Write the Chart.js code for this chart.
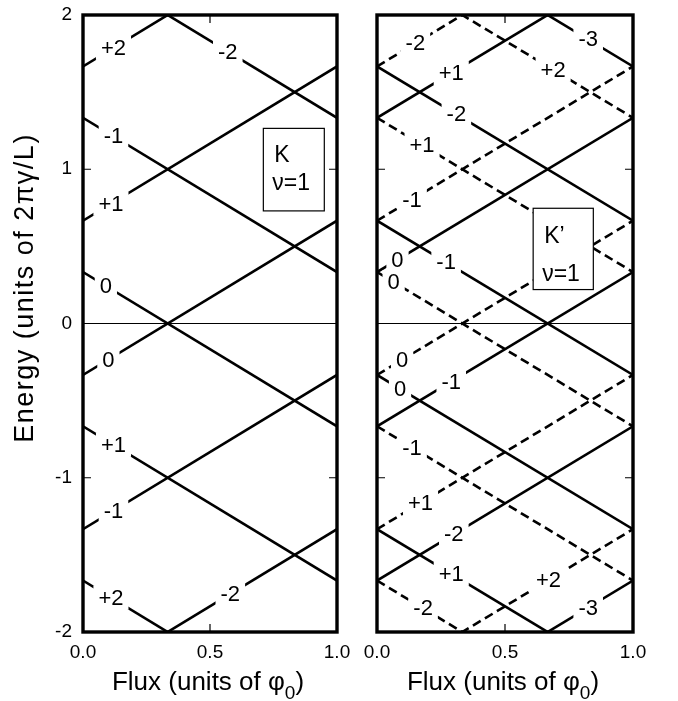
<!DOCTYPE html>
<html>
<head>
<meta charset="utf-8">
<title>Edge-state energies vs flux</title>
<script src="https://cdn.jsdelivr.net/npm/chart.js@4.4.1/dist/chart.umd.min.js"></script>
<style>
  html, body { margin: 0; padding: 0; background: #fff; }
  #fig { position: relative; width: 678px; height: 701px; overflow: hidden; background: #fff; }
  .panel { position: absolute; top: 0; }
  #panelK { left: 0; }
  #panelKp { left: 345px; }
</style>
</head>
<body>
<div id="fig">
  <div class="panel" id="panelK"><canvas id="chartK" width="360" height="701"></canvas></div>
  <div class="panel" id="panelKp"><canvas id="chartKp" width="333" height="701"></canvas></div>
</div>
<script>
"use strict";

const FONT = '"Liberation Sans", Arial, Helvetica, sans-serif';

// Energy (units of 2πγ/L) of each branch at zero flux; "up" branches rise
// by one unit across the flux quantum, "down" branches fall by one.
// Tags are the level indices written on the branches, tagAt the flux where they sit.

// K valley, ν = 1
const kUpE0 = [5/3, 2/3, -1/3, -4/3, -7/3];
const kUpTags = ['+2', '+1', '0', '-1', '-2'];
const kUpTagAt = [0.12, 0.11, 0.10, 0.12, 0.58];
const kDownE0 = [7/3, 4/3, 1/3, -2/3, -5/3];
const kDownTags = ['-2', '-1', '0', '+1', '+2'];
const kDownTagAt = [0.57, 0.12, 0.09, 0.12, 0.11];

// K' valley, ν = 1 - solid branches
const kpUpE0 = [4/3, 1/3, -2/3, -5/3, -8/3];
const kpUpTags = ['+1', '0', '-1', '-2', '-3'];
const kpUpTagAt = [0.29, 0.08, 0.29, 0.30, 0.825];
const kpDownE0 = [8/3, 5/3, 2/3, -1/3, -4/3];
const kpDownTags = ['-3', '-2', '-1', '0', '+1'];
const kpDownTagAt = [0.825, 0.31, 0.27, 0.09, 0.29];

// K' valley, ν = 1 - dashed branches
const kpDashUpE0 = [5/3, 2/3, -1/3, -4/3, -7/3];
const kpDashUpTags = ['-2', '-1', '0', '+1', '+2'];
const kpDashUpTagAt = [0.15, 0.137, 0.098, 0.17, 0.67];
const kpDashDownE0 = [7/3, 4/3, 1/3, -2/3, -5/3];
const kpDashDownTags = ['+2', '+1', '0', '-1', '-2'];
const kpDashDownTagAt = [0.688, 0.176, 0.065, 0.137, 0.18];

const fluxTicks = [0, 0.5, 1];
const energyTicks = [-2, -1, 0, 1, 2];

function branchSets(e0s, slope, tags, tagAt, dashed) {
  return e0s.map((e0, i) => ({
    data: [{ x: 0, y: e0 }, { x: 1, y: e0 + slope }],
    borderColor: '#000',
    borderWidth: 2.6,
    borderDash: dashed ? [9, 5] : [],
    pointRadius: 0,
    showLine: true,
    tension: 0,
    tag: tags[i],
    tagAt: tagAt[i]
  }));
}

// keep the plot frame exactly where the layout padding puts it
function noOverflow(s) {
  s.paddingTop = 0;
  s.paddingBottom = 0;
  s.paddingLeft = 0;
  s.paddingRight = 0;
}

// thin zero line, level tags on white patches, the valley box, frame and titles
const decor = {
  id: 'decor',
  beforeDatasetsDraw(chart) {
    const { ctx, chartArea: a, scales: { y } } = chart;
    const y0 = y.getPixelForValue(0);
    ctx.save();
    ctx.strokeStyle = '#000';
    ctx.lineWidth = 1;
    ctx.beginPath();
    ctx.moveTo(a.left, y0);
    ctx.lineTo(a.right, y0);
    ctx.stroke();
    ctx.restore();
  },
  afterDatasetsDraw(chart, args, opts) {
    const { ctx, scales: { x, y } } = chart;
    ctx.save();
    ctx.font = '22px ' + FONT;
    ctx.textAlign = 'center';
    ctx.textBaseline = 'middle';
    const spots = chart.data.datasets.map(ds => {
      const e0 = ds.data[0].y, slope = ds.data[1].y - e0;
      return {
        text: ds.tag,
        px: x.getPixelForValue(ds.tagAt),
        py: y.getPixelForValue(e0 + slope * ds.tagAt)
      };
    });
    ctx.fillStyle = '#fff';
    spots.forEach(s => {
      const w = ctx.measureText(s.text).width + 10;
      ctx.fillRect(s.px - w / 2, s.py - 12, w, 24);
    });
    ctx.fillStyle = '#000';
    spots.forEach(s => ctx.fillText(s.text, s.px, s.py + 1));

    // valley box
    const b = opts.box;
    const bl = x.getPixelForValue(b.x0), br = x.getPixelForValue(b.x1);
    const bt = y.getPixelForValue(b.y1), bb = y.getPixelForValue(b.y0);
    ctx.fillStyle = '#fff';
    ctx.fillRect(bl, bt, br - bl, bb - bt);
    ctx.strokeStyle = '#000';
    ctx.lineWidth = 1.2;
    ctx.strokeRect(bl, bt, br - bl, bb - bt);
    ctx.fillStyle = '#000';
    ctx.textAlign = 'left';
    ctx.textBaseline = 'alphabetic';
    ctx.font = '23px ' + FONT;
    ctx.fillText(b.valley, bl + 11, bt + b.gap1);
    ctx.fillText('ν=1', bl + 9, bt + b.gap2);
    ctx.restore();
  },
  afterDraw(chart, args, opts) {
    const { ctx, chartArea: a, scales: { x, y } } = chart;
    ctx.save();
    ctx.strokeStyle = '#000';

    // inward ticks
    ctx.lineWidth = 1.2;
    ctx.beginPath();
    [-1, 0, 1].forEach(v => {
      const py = y.getPixelForValue(v);
      ctx.moveTo(a.left, py); ctx.lineTo(a.left + 8, py);
      ctx.moveTo(a.right, py); ctx.lineTo(a.right - 8, py);
    });
    const px = x.getPixelForValue(0.5);
    ctx.moveTo(px, a.top); ctx.lineTo(px, a.top + 8);
    ctx.moveTo(px, a.bottom); ctx.lineTo(px, a.bottom - 8);
    ctx.stroke();

    // frame
    ctx.lineWidth = 3.4;
    ctx.strokeRect(a.left, a.top, a.right - a.left, a.bottom - a.top);

    // x title with subscript
    ctx.fillStyle = '#000';
    ctx.textBaseline = 'alphabetic';
    ctx.textAlign = 'left';
    const big = '26px ' + FONT, small = '19px ' + FONT;
    const head = 'Flux (units of φ', sub = '0', tail = ')';
    ctx.font = big;
    const w1 = ctx.measureText(head).width, w3 = ctx.measureText(tail).width;
    ctx.font = small;
    const w2 = ctx.measureText(sub).width;
    const tx = (a.left + a.right) / 2 - 2 - (w1 + w2 + w3) / 2;
    const base = 690;
    ctx.font = big;
    ctx.fillText(head, tx, base);
    ctx.font = small;
    ctx.fillText(sub, tx + w1, base + 9);
    ctx.font = big;
    ctx.fillText(tail, tx + w1 + w2, base);

    // y title, left panel only
    if (opts.yTitle) {
      ctx.translate(33, 288);
      ctx.rotate(-Math.PI / 2);
      ctx.textAlign = 'center';
      ctx.font = '27px ' + FONT;
      ctx.letterSpacing = '1.5px';
      ctx.fillText(opts.yTitle, 0, 0);
    }
    ctx.restore();
  }
};

function panelOptions(showTicks, yWidth, padding, decorOpts) {
  return {
    responsive: false,
    animation: false,
    layout: { padding },
    plugins: {
      legend: { display: false },
      tooltip: { enabled: false },
      decor: decorOpts
    },
    scales: {
      x: {
        type: 'linear',
        min: 0,
        max: 1,
        afterBuildTicks: s => { s.ticks = fluxTicks.map(v => ({ value: v })); },
        ticks: {
          callback: v => Number(v).toFixed(1),
          font: { family: FONT, size: 19 },
          color: '#000',
          padding: 9,
          maxRotation: 0,
          autoSkip: false
        },
        grid: { display: false, drawTicks: false },
        border: { display: false },
        afterFit: s => { s.height = 69; noOverflow(s); }
      },
      y: {
        type: 'linear',
        min: -2,
        max: 2,
        afterBuildTicks: s => { s.ticks = energyTicks.map(v => ({ value: v })); },
        ticks: {
          display: showTicks,
          callback: v => String(v),
          font: { family: FONT, size: 19 },
          color: '#000',
          padding: 11
        },
        grid: { display: false, drawTicks: false },
        border: { display: false },
        afterFit: s => { s.width = yWidth; noOverflow(s); }
      }
    }
  };
}

new Chart(document.getElementById('chartK').getContext('2d'), {
  type: 'scatter',
  data: {
    datasets: [
      ...branchSets(kUpE0, 1, kUpTags, kUpTagAt, false),
      ...branchSets(kDownE0, -1, kDownTags, kDownTagAt, false)
    ]
  },
  options: panelOptions(true, 83, { top: 15, right: 23, left: 0, bottom: 0 }, {
    yTitle: 'Energy (units of 2πγ/L)',
    box: { valley: 'K', x0: 0.71, x1: 0.95, y0: 0.73, y1: 1.265, gap1: 34, gap2: 62 }
  }),
  plugins: [decor]
});

new Chart(document.getElementById('chartKp').getContext('2d'), {
  type: 'scatter',
  data: {
    datasets: [
      ...branchSets(kpUpE0, 1, kpUpTags, kpUpTagAt, false),
      ...branchSets(kpDownE0, -1, kpDownTags, kpDownTagAt, false),
      ...branchSets(kpDashUpE0, 1, kpDashUpTags, kpDashUpTagAt, true),
      ...branchSets(kpDashDownE0, -1, kpDashDownTags, kpDashDownTagAt, true)
    ]
  },
  options: panelOptions(false, 32, { top: 15, right: 45, left: 0, bottom: 0 }, {
    yTitle: null,
    box: { valley: 'K’', x0: 0.61, x1: 0.845, y0: 0.22, y1: 0.747, gap1: 35, gap2: 73 }
  }),
  plugins: [decor]
});
</script>
</body>
</html>
